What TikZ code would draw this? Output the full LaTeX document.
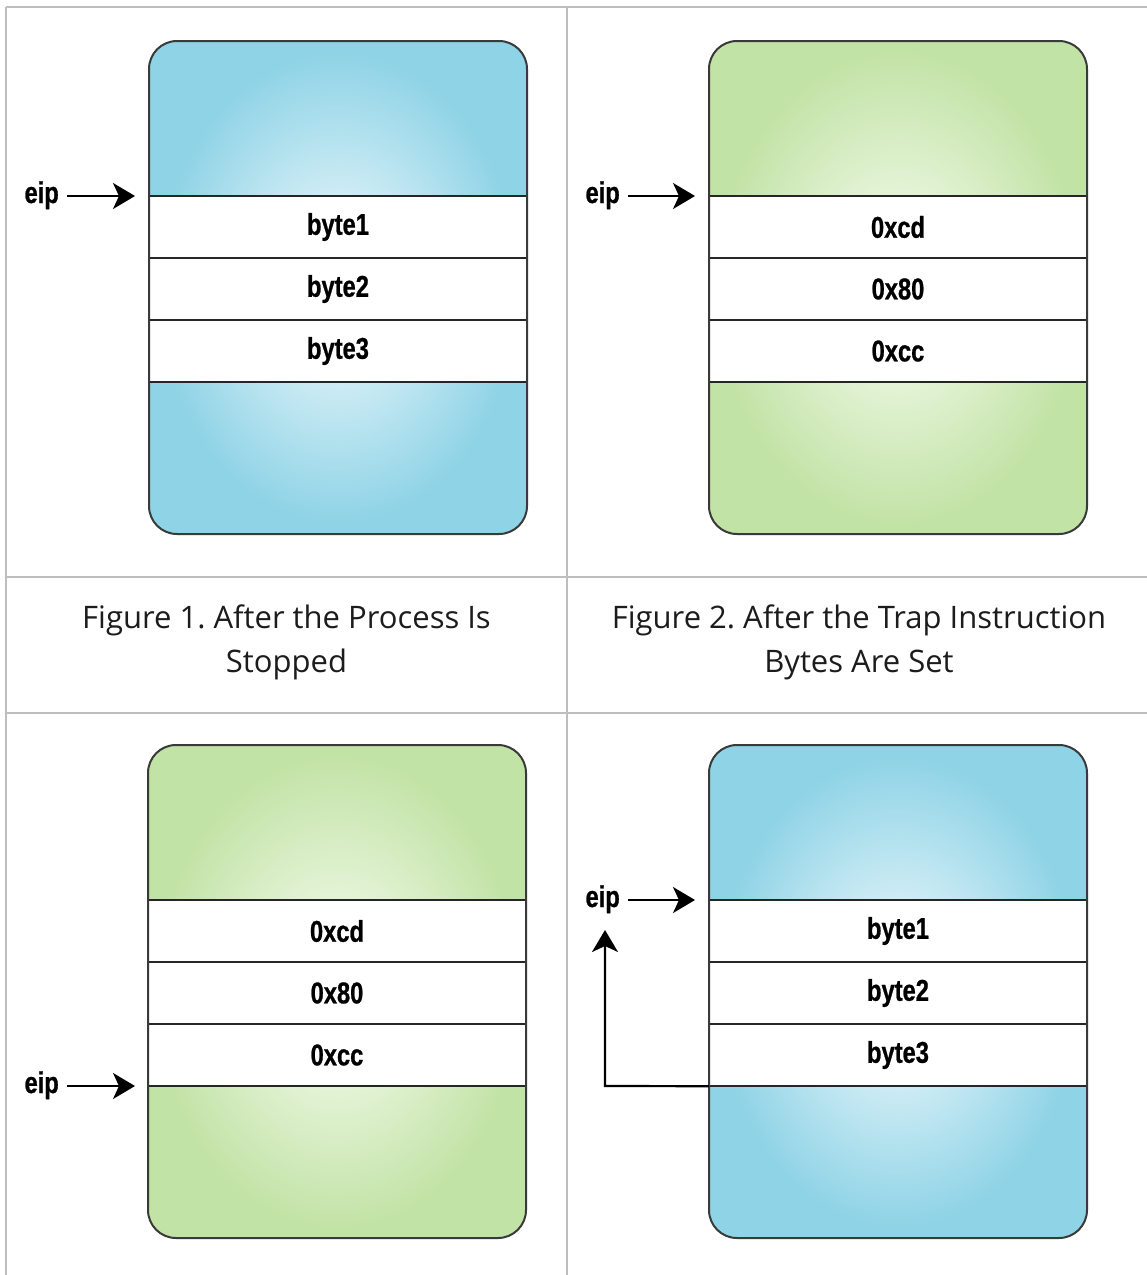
\documentclass[tikz,border=0pt]{standalone}
\usepackage{fontspec}
\setmainfont{Open Sans}
\newfontfamily\boxfont{Liberation Sans}[FakeStretch=0.79, FakeBold=0.8]
\usetikzlibrary{arrows.meta}
\definecolor{blueout}{HTML}{8ED3E6}
\definecolor{bluein}{HTML}{D8F0F7}
\definecolor{greenout}{HTML}{C2E3A6}
\definecolor{greenin}{HTML}{EAF6DF}
\definecolor{gridgray}{HTML}{BEBEBE}
\definecolor{edgegray}{HTML}{3A3A3A}
\definecolor{captext}{HTML}{1C1C1C}
\pgfdeclareradialshading{glowblue}{\pgfpoint{0bp}{0bp}}{color(0bp)=(bluein); color(7bp)=(bluein); color(24bp)=(blueout); color(50bp)=(blueout)}
\pgfdeclareradialshading{glowgreen}{\pgfpoint{0bp}{0bp}}{color(0bp)=(greenin); color(7bp)=(greenin); color(24bp)=(greenout); color(50bp)=(greenout)}
\tikzset{
  gridline/.style={draw=gridgray, line width=2pt},
  cellbox/.style={fill=white, minimum width=378pt, minimum height=62pt, inner sep=0pt,
    font=\boxfont\bfseries\fontsize{30}{34}\selectfont},
  rowline/.style={draw=black!85, line width=2pt},
  outline/.style={draw=edgegray, line width=2pt, rounded corners=28pt},
  ptr/.style={draw=black, line width=2.2pt, -{Stealth[length=22pt,width=26pt,inset=6pt]}},
  eiplbl/.style={inner xsep=8pt, inner ysep=0pt, anchor=base east,
    font=\boxfont\bfseries\fontsize{30}{34}\selectfont},
  caption/.style={align=center, text=captext, font=\fontsize{31}{44}\selectfont\frenchspacing}
}
\newcommand{\mempanel}[7]{%
  \coordinate (#1tl) at (#2,#3);
  \shade[shading=#4, rounded corners=28pt] (#1tl) rectangle ++(378,493);
  \node[cellbox] (#1a) at ({#2+189},{#3+186}) {#5};
  \node[cellbox] (#1b) at ({#2+189},{#3+248}) {#6};
  \node[cellbox] (#1c) at ({#2+189},{#3+310}) {#7};
  \draw[rowline] ({#2},{#3+155}) -- ++(378,0);
  \draw[rowline] ({#2},{#3+217}) -- ++(378,0);
  \draw[rowline] ({#2},{#3+279}) -- ++(378,0);
  \draw[rowline] ({#2},{#3+341}) -- ++(378,0);
  \draw[outline] (#1tl) rectangle ++(378,493);
}
\begin{document}
\begin{tikzpicture}[x=1pt, y=-1pt]
\clip (0,0) rectangle (1147,1275);
\fill[white] (0,0) rectangle (1147,1275);
% table grid
\draw[gridline] (6,7) -- (1151,7);
\draw[gridline] (6,577) -- (1151,577);
\draw[gridline] (6,713) -- (1151,713);
\draw[gridline] (6,7) -- (6,1280);
\draw[gridline] (567,7) -- (567,1280);
% panels
\mempanel{pa}{149}{41}{glowblue}{byte1}{byte2}{byte3}
\mempanel{pb}{709}{41}{glowgreen}{0xcd}{0x80}{0xcc}
\mempanel{pc}{148}{745}{glowgreen}{0xcd}{0x80}{0xcc}
\mempanel{pd}{709}{745}{glowblue}{byte1}{byte2}{byte3}
% eip pointers
\node[eiplbl] (eipa) at (67,203) {eip};
\coordinate (tipa) at (135,196);
\draw[ptr] (eipa.east |- tipa) -- (tipa);
\node[eiplbl] (eipb) at (628,203) {eip};
\coordinate (tipb) at (695,196);
\draw[ptr] (eipb.east |- tipb) -- (tipb);
\node[eiplbl] (eipc) at (67,1093) {eip};
\coordinate (tipc) at (135,1086);
\draw[ptr] (eipc.east |- tipc) -- (tipc);
\node[eiplbl] (eipd) at (628,907) {eip};
\coordinate (tipd) at (695,900);
\draw[ptr] (eipd.east |- tipd) -- (tipd);
% return arrow in panel 4
\coordinate (retcorner) at (605,1086);
\coordinate (rettip) at (605,930);
\draw[ptr] (pdc.south west) -- (retcorner) -- (rettip);
% captions
\node[caption] (capa) at (286.5,642) {Figure 1. After the Process Is\\Stopped};
\node[caption] (capb) at (859,642) {Figure 2. After the Trap Instruction\\Bytes Are Set};
\end{tikzpicture}
\end{document}
